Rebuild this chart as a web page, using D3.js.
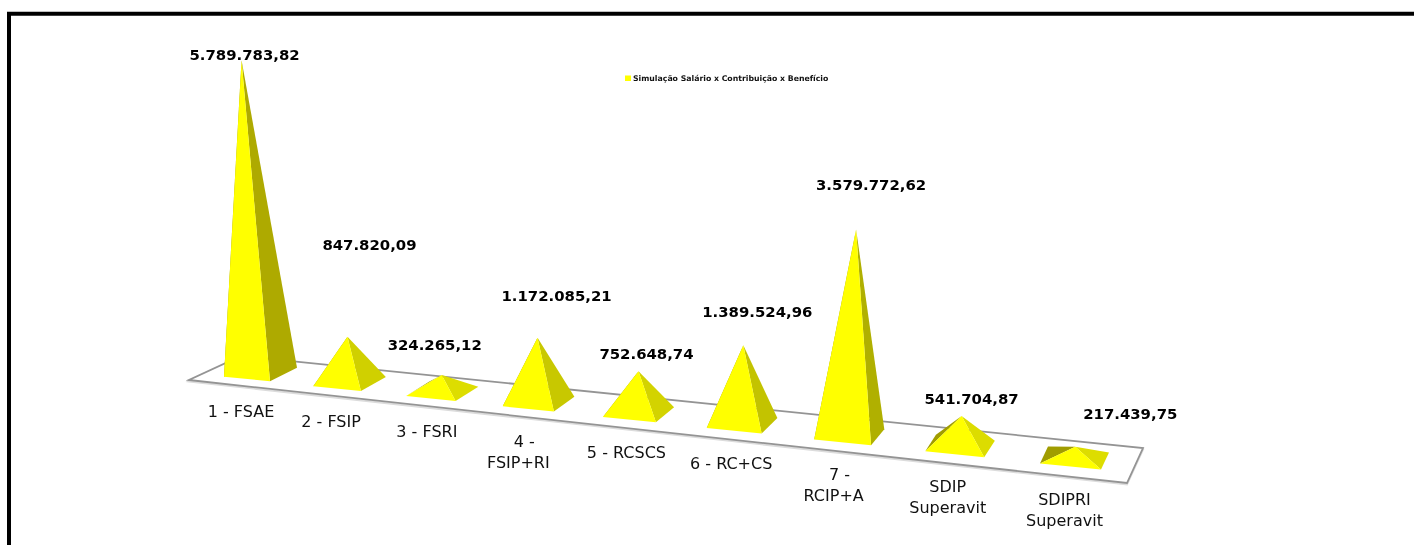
<!DOCTYPE html>
<html>
<head>
<meta charset="utf-8">
<script src="https://cdn.jsdelivr.net/npm/d3@7/dist/d3.min.js"></script>
<style>
  html, body {margin: 0; background: #fff; overflow: hidden;}
  text {font-family: "DejaVu Sans", sans-serif;}
  #chart {filter: blur(.35px);}
</style>
</head>
<body>
<svg id="chart" width="1414" height="545"></svg>
<script>
`use strict`;

const seriesName = `Simulação Salário x Contribuição x Benefício`;

const categories = [`1 - FSAE`, `2 - FSIP`, `3 - FSRI`, `4 -\nFSIP+RI`, `5 - RCSCS`, `6 - RC+CS`, `7 -\nRCIP+A`, `SDIP\nSuperavit`, `SDIPRI\nSuperavit`];

const values = [5789783.82, 847820.09, 324265.12, 1172085.21, 752648.74, 1389524.96, 3579772.62, 541704.87, 217439.75];

const valueLabels = [`5.789.783,82`, `847.820,09`, `324.265,12`, `1.172.085,21`, `752.648,74`, `1.389.524,96`, `3.579.772,62`, `541.704,87`, `217.439,75`];

// the value labels were dragged by hand in the original, so they sit off the apex
const labelNudge = [[3, -6], [22, -93], [-7, -31], [19, -43], [8, -18], [14, -34], [15, -45], [10, -18], [55, -34]];
const catNudge = [0, 0, 2, -4, 3, 3, -3, -1, 0];

const svg = d3.select(`#chart`);

// fake perspective, everything gets closer to the viewer going right
const slotStart = 3.01;
const slot = d3.scalePow().exponent(2).domain([slotStart, slotStart + 1]).range([247, 1070.5]);
const frontY = d3.scaleLinear().domain([247, 1070]).range([379, 466.5]);
const halfWidth = d3.scaleLinear().domain([247, 1070]).range([23, 30.5]);
const depthX = d3.scaleLinear().domain([247, 1070]).range([27, 8]);
const depthY = d3.scaleLinear().domain([247, 1070]).range([-13.5, -17]);
const heightGain = d3.scaleLinear().domain([247, 1070]).range([1, 1.09]);
const height = d3.scaleLinear().domain([0, d3.max(values)]).range([-1.5, 312]);

const sideShade = d3.scaleLinear()
  .domain([12, 30, 44, 80, 206, 310])
  .range([`#dddd00`, `#dcdc00`, `#d0d000`, `#c2c200`, `#b0b000`, `#aeaa00`]);

const leanCentre = 640, leanRate = 1.6e-4;

const pyramids = values.map((v, i) => {

  let x = slot(slotStart + i / 8);
  let y = frontY(x);
  let w = halfWidth(x);
  let dx = depthX(x), dy = depthY(x);
  let rise = 0.1 * w;

  let FL = [x - w, y - rise], FR = [x + w, y + rise];
  let BR = [FR[0] + dx, FR[1] + dy], BL = [FL[0] + dx, FL[1] + dy];

  let cx = x + dx / 2, cy = y + dy / 2;
  let h = height(v) * heightGain(x);
  let apex = [cx + (cx - leanCentre) * h * leanRate, cy - h];

  return {i, x, y, h, FL, FR, BR, BL, apex};
});

const line = d3.line();

// floor plane
const plane = [[189, 380], [1127, 483], [1143, 448], [241, 356]];

svg.append(`path`)
  .attr(`d`, line(plane) + `Z`)
  .attr(`transform`, `translate(0,1.5)`)
  .attr(`fill`, `none`)
  .attr(`stroke`, `#dcdcdc`)
  .attr(`stroke-width`, 2);

svg.append(`path`)
  .attr(`d`, line(plane) + `Z`)
  .attr(`fill`, `#fff`)
  .attr(`stroke`, `#949494`)
  .attr(`stroke-width`, 1.8);

let marks = svg.selectAll(`g.pyramid`).data(pyramids)
  .enter()
  .append(`g`)
  .attr(`class`, `pyramid`);

marks.append(`path`)
  .attr(`d`, d => line([d.FL, d.BL, d.apex]) + `Z`)
  .attr(`fill`, `#a09c00`);

marks.append(`path`)
  .attr(`d`, d => line([d.FR, d.BR, d.apex]) + `Z`)
  .attr(`fill`, d => sideShade(d.h));

marks.append(`path`)
  .attr(`d`, d => line([d.FL, d.FR, d.apex]) + `Z`)
  .attr(`fill`, `#ffff00`);

// value labels
svg.selectAll(`text.value`).data(pyramids)
  .enter()
  .append(`text`)
  .attr(`class`, `value`)
  .attr(`x`, d => d.apex[0] + labelNudge[d.i][0])
  .attr(`y`, d => d.apex[1] + labelNudge[d.i][1] + 6)
  .attr(`text-anchor`, `middle`)
  .attr(`font-size`, 14.9)
  .attr(`font-weight`, `bold`)
  .attr(`fill`, `#000`)
  .text(d => valueLabels[d.i]);

// category labels
let cats = svg.selectAll(`text.cat`).data(pyramids)
  .enter()
  .append(`text`)
  .attr(`class`, `cat`)
  .attr(`text-anchor`, `middle`)
  .attr(`font-size`, 16)
  .attr(`fill`, `#111`);

cats.selectAll(`tspan`).data(d => categories[d.i].split(`\n`).map((t, n) => ({t, n, d})))
  .enter()
  .append(`tspan`)
  .attr(`x`, o => o.d.x - 6 + catNudge[o.d.i] + (/ -$/.test(o.t) ? 6 : 0))
  .attr(`y`, o => o.d.y + 32.5 + o.n * 21 + 5.5)
  .text(o => o.t);

// legend
svg.append(`rect`)
  .attr(`x`, 625)
  .attr(`y`, 75.5)
  .attr(`width`, 6)
  .attr(`height`, 5.5)
  .attr(`fill`, `#ffff00`);

svg.append(`text`)
  .attr(`x`, 633)
  .attr(`y`, 81)
  .attr(`font-size`, 7.78)
  .attr(`font-weight`, `bold`)
  .attr(`fill`, `#111`)
  .text(seriesName);

// heavy frame, only top and left are in the shot
svg.append(`path`)
  .attr(`d`, line([[9, 545], [9, 13.8], [1414, 13.8]]))
  .attr(`fill`, `none`)
  .attr(`stroke`, `#000`)
  .attr(`stroke-width`, 4);
</script>
</body>
</html>
